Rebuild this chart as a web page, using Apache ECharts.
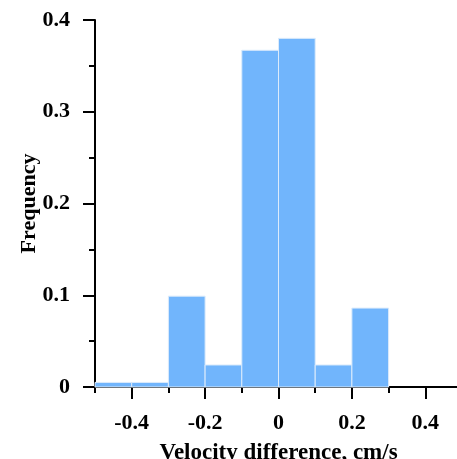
<!DOCTYPE html>
<html>
<head>
<meta charset="utf-8">
<script src="https://cdn.jsdelivr.net/npm/echarts@6/dist/echarts.min.js"></script>
<style>
html,body{margin:0;padding:0;background:#fff;}
#chart{width:457px;height:459px;}
</style>
</head>
<body>
<div id="chart"></div>
<script>
// Histogram bins (velocity difference, cm/s) and frequencies
var binStart = [-0.5, -0.4, -0.3, -0.2, -0.1, 0.0, 0.1, 0.2];
var binEnd   = [-0.4, -0.3, -0.2, -0.1, 0.0, 0.1, 0.2, 0.3];
var frequency = [0.005, 0.005, 0.099, 0.024, 0.367, 0.380, 0.024, 0.086];

// Axis ticks
var xMajorTicks = [-0.4, -0.2, 0, 0.2, 0.4];
var xMinorTicks = [-0.5, -0.3, -0.1, 0.1, 0.3];
var xTickLabels = ['-0.4', '-0.2', '0', '0.2', '0.4'];
var yTickLabels = ['0', '0.1', '0.2', '0.3', '0.4'];

var FONT = '"Liberation Serif", "Times New Roman", "DejaVu Serif", serif';
var chart = echarts.init(document.getElementById('chart'));

var data = binStart.map(function (s, i) { return [s, binEnd[i], frequency[i]]; });

var labelMap = {};
xMajorTicks.forEach(function (v, i) { labelMap[v.toFixed(1)] = xTickLabels[i]; });

chart.setOption({
  animation: false,
  backgroundColor: '#ffffff',
  grid: { left: 95, top: 20, bottom: 72, right: -5, containLabel: false, outerBoundsMode: 'none' },
  xAxis: [{
    type: 'value', min: -0.5, max: 0.5,
    name: 'Velocity difference, cm/s', nameLocation: 'middle', nameGap: 55, nameMoveOverlap: false,
    nameTextStyle: { fontFamily: FONT, fontWeight: 'bold', fontSize: 23, color: '#000' },
    axisLine: { show: true, onZero: false, lineStyle: { color: '#000', width: 2 } },
    axisTick: { show: true, length: 12, lineStyle: { color: '#000', width: 2 }, customValues: xMajorTicks },
    axisLabel: { show: true, margin: 25, customValues: xMajorTicks,
      fontFamily: FONT, fontWeight: 'bold', fontSize: 22, color: '#000',
      formatter: function (v) { return labelMap[(Math.round(v * 10) / 10).toFixed(1)] || ''; } },
    splitLine: { show: false }
  }, {
    type: 'value', min: -0.5, max: 0.5, position: 'bottom', offset: 0,
    axisLine: { show: false, onZero: false },
    axisTick: { show: true, length: 6, lineStyle: { color: '#000', width: 2 }, customValues: xMinorTicks },
    axisLabel: { show: false },
    splitLine: { show: false }
  }],
  yAxis: {
    type: 'value', min: 0, max: 0.4, interval: 0.1,
    name: 'Frequency', nameLocation: 'middle', nameGap: 55, nameMoveOverlap: false,
    nameTextStyle: { fontFamily: FONT, fontWeight: 'bold', fontSize: 22, color: '#000' },
    axisLine: { show: true, onZero: false, lineStyle: { color: '#000', width: 2 } },
    axisTick: { show: true, length: 12, lineStyle: { color: '#000', width: 2 } },
    minorTick: { show: true, splitNumber: 2, length: 6, lineStyle: { color: '#000', width: 2 } },
    axisLabel: { margin: 25, fontFamily: FONT, fontWeight: 'bold', fontSize: 22, color: '#000',
      formatter: function (v) { return yTickLabels[Math.round(v * 10)]; } },
    splitLine: { show: false },
    minorSplitLine: { show: false }
  },
  series: [{
    type: 'custom',
    xAxisIndex: 0,
    data: data,
    encode: { x: [0, 1], y: 2 },
    z: 1,
    renderItem: function (params, api) {
      var p0 = api.coord([api.value(0), api.value(2)]);
      var p1 = api.coord([api.value(1), 0]);
      return {
        type: 'rect',
        shape: { x: p0[0], y: p0[1], width: p1[0] - p0[0], height: p1[1] - p0[1] },
        style: { fill: '#71b5fc', stroke: '#dcebfb', lineWidth: 1 }
      };
    }
  }]
});
</script>
</body>
</html>
